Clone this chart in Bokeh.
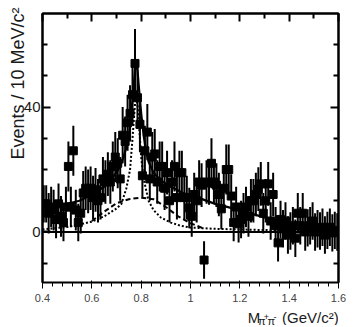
import math
from bokeh.plotting import figure
from bokeh.layouts import column
from bokeh.models import FixedTicker, LinearAxis, Range1d, Label, Span, NumeralTickFormatter, Title
from bokeh.embed import file_html
from bokeh.resources import INLINE

# ---- data -------------------------------------------------------------
bin_start = 0.40
bin_width = 0.01
counts = [
    9, 9, 6, 8, 7, 4, 9, 5, 3, 8,
    21, 8, 26, 7, 3, 6, 12.5, 14, 13, 14,
    11, 13.5, 10, 11, 17, 16, 18.5, 16, 21, 24,
    22, 17, 31, 29, 35, 38, 44, 54, 43, 34.5,
    18, 26, 32, 17, 24, 25, 16, 21, 21, 14,
    19, 10, 16, 21, 11, 19, 19, 11, 11, 7.7,
    5, 12, 10, 16, 15, -9, 16, 15.7, 22, 16,
    15, 12, 7.4, 14, 20, 20, 11.5, 3, 8, 2.6,
    4, 6, 8, 5, 10, 10, 12, 13.7, 15.4, 6,
    10, 15.4, 3.5, 12, 2, -3.5, 4, 1, 3.5, -1,
    0.3, 2, -2, 6, 2, 6, 0, 1.3, 2, 3.5,
    0, 1, 0.3, 1.5, -1, 0.5, 1.5, -0.3, 0.5, 0,
]
errors = [
    6, 6, 6.5, 6.5, 6.5, 6, 6.5, 6.5, 6, 6.5,
    8, 6.5, 8, 6.5, 6, 6.5, 7, 7, 7, 7,
    7, 7, 7, 7, 7, 7, 7, 7, 8, 8,
    8, 7, 9, 8, 9, 9, 10, 11, 10, 9,
    7, 8, 9, 7, 8, 8, 7, 8, 8, 7,
    7, 7, 7, 8, 7, 7, 7, 7, 7, 6.5,
    6.5, 7, 7, 7, 7, 6, 7, 7, 8, 7,
    7, 7, 6.5, 7, 8, 8, 7, 6, 6.5, 6,
    6, 6.5, 6.5, 6.5, 7, 7, 7, 7, 7, 6.5,
    7, 7, 6, 7, 6, 6, 6, 6, 6, 6,
    6, 6, 6, 6.5, 6, 6.5, 6, 6, 6, 6,
    6, 6, 6, 6, 6, 6, 6, 6, 6, 6,
]

# total fit (solid)
total_x = [0.40, 0.45, 0.50, 0.55, 0.60, 0.65, 0.70, 0.72, 0.74, 0.75, 0.76, 0.77,
           0.775, 0.78, 0.785, 0.79, 0.80, 0.81, 0.82, 0.83, 0.85, 0.88, 0.92,
           0.97, 1.03, 1.10, 1.16, 1.25, 1.35, 1.45, 1.55, 1.60]
total_y = [7.5, 8, 9, 10, 12, 14.5, 19, 22, 27, 31, 38, 47,
           52, 54, 52, 47, 38, 31, 26, 22.5, 19, 16.5, 14.5,
           12.5, 11, 9, 7.8, 5.8, 3.5, 2.2, 1.2, 0.8]

# narrow resonance component (dotted)
narrow_x = [0.40, 0.45, 0.50, 0.55, 0.60, 0.65, 0.68, 0.70, 0.72, 0.74, 0.755,
            0.765, 0.775, 0.78, 0.785, 0.795, 0.80, 0.81, 0.83, 0.85, 0.88, 0.92,
            0.96, 1.00, 1.10, 1.20, 1.30, 1.40, 1.50, 1.60]
narrow_y = [0.8, 1.2, 1.6, 2.4, 3.3, 5, 6.5, 7.5, 9, 14, 20,
            30, 41, 43, 41, 30, 24, 17, 10, 7, 4.6, 3,
            2, 1.4, 1.0, 0.8, 0.6, 0.5, 0.4, 0.3]

# broad component (dashed)
broad_x = [0.60, 0.65, 0.70, 0.75, 0.80, 0.85, 0.90, 0.95, 1.00, 1.05]
broad_y = [3.5, 6.5, 9.2, 10.5, 11, 10.5, 8, 5, 2.8, 1.2]

x_major = [0.4, 0.6, 0.8, 1.0, 1.2, 1.4, 1.6]
x_minor = [0.5, 0.7, 0.9, 1.1, 1.3, 1.5]
y_major = [0, 40]
y_minor = [-10, 10, 20, 30, 50, 60]

X_LO, X_HI = 0.4, 1.6
Y_LO, Y_HI = -16.2, 70

# ---- layout constants (pixels) --------------------------------------------
FONT = "Liberation Sans"
INK = "#1a1a1a"
W = 346
H_MAIN = 306
H_XLAB = 19
LEFT, RIGHT_EDGE, TOP, BOTTOM_EDGE = 42, 338, 13, 282

centers = [bin_start + bin_width * (i + 0.5) for i in range(len(counts))]
lows = [c - e for c, e in zip(counts, errors)]
highs = [c + e for c, e in zip(counts, errors)]

p = figure(width=W, height=H_MAIN, x_range=Range1d(X_LO, X_HI), y_range=Range1d(Y_LO, Y_HI),
           output_backend="svg", toolbar_location=None,
           min_border_left=LEFT, min_border_right=W - RIGHT_EDGE,
           min_border_top=TOP, min_border_bottom=H_MAIN - BOTTOM_EDGE)
p.grid.visible = False
p.outline_line_color = "black"
p.outline_line_width = 2
p.background_fill_color = "white"
p.border_fill_color = "white"

top_axis = LinearAxis()
right_axis = LinearAxis()
p.add_layout(top_axis, "above")
p.add_layout(right_axis, "right")

for ax in [p.xaxis[0], top_axis]:
    ax.ticker = FixedTicker(ticks=x_major, minor_ticks=x_minor)
    ax.formatter = NumeralTickFormatter(format="0.0")
for ax in [p.yaxis[0], right_axis]:
    ax.ticker = FixedTicker(ticks=y_major, minor_ticks=y_minor)
    ax.formatter = NumeralTickFormatter(format="0")

for ax in [p.xaxis[0], p.yaxis[0], top_axis, right_axis]:
    ax.axis_line_width = 2
    ax.axis_line_color = "black"
    ax.major_tick_in = 8
    ax.major_tick_out = 0
    ax.minor_tick_in = 5
    ax.minor_tick_out = 0
    ax.major_tick_line_width = 2
    ax.minor_tick_line_width = 2
    ax.major_label_text_font = FONT
    ax.major_label_text_font_size = "15px"
    ax.major_label_text_color = INK

for ax in [top_axis, right_axis]:
    ax.major_label_text_color = None
    ax.major_label_text_font_size = "1px"
    ax.major_label_standoff = 0

p.xaxis[0].major_label_standoff = 7
p.yaxis[0].major_label_standoff = 2

# y axis title (left side panel, pushed to the top end)
p.add_layout(Title(text="Events / 10 MeV/c²", align="right", vertical_align="bottom",
                   offset=-6, standoff=-14, text_font=FONT, text_font_size="18px",
                   text_font_style="normal", text_color=INK), "left")

# zero line
p.add_layout(Span(location=0, dimension="width", line_color="black", line_width=2))

# data points with error bars
p.segment(x0=centers, y0=lows, x1=centers, y1=highs, line_color="black", line_width=2)
p.scatter(centers, counts, marker="square", size=8, fill_color="black", line_color="black")

# fit curves
p.line(broad_x, broad_y, line_color="black", line_width=2, line_dash="5 3")
p.line(narrow_x, narrow_y, line_color="black", line_width=2, line_dash="2 2")
p.line(total_x, total_y, line_color="black", line_width=2.2)

# ---- x axis title strip (same horizontal scale as the main plot) ----------
scale = (RIGHT_EDGE - LEFT) / (X_HI - X_LO)
q = figure(width=W, height=H_XLAB,
           x_range=Range1d(X_LO - LEFT / scale, X_LO + (W - LEFT) / scale),
           y_range=Range1d(0, H_XLAB), output_backend="svg", toolbar_location=None,
           x_axis_type=None, y_axis_type=None,
           min_border_left=0, min_border_right=0, min_border_top=0, min_border_bottom=0)
q.grid.visible = False
q.outline_line_color = None
q.background_fill_color = "white"
q.border_fill_color = "white"

def px(xpix):
    return X_LO + (xpix - LEFT) / scale

def put(xpix, ypix_from_bottom, txt, size):
    q.add_layout(Label(x=px(xpix), y=ypix_from_bottom, text=txt, text_align="left",
                       text_baseline="alphabetic", text_font=FONT, text_font_size=size,
                       text_color=INK))

put(240, 8, "M", "15px")
put(252, 5, "π", "11px")
put(258.5, 9, "+", "9px")
put(263, 5, "π", "11px")
put(270, 9, "-", "9px")
put(280, 8, "(GeV/c²)", "15px")

layout = column(p, q)
open("out.html", "w").write(file_html(layout, INLINE))
